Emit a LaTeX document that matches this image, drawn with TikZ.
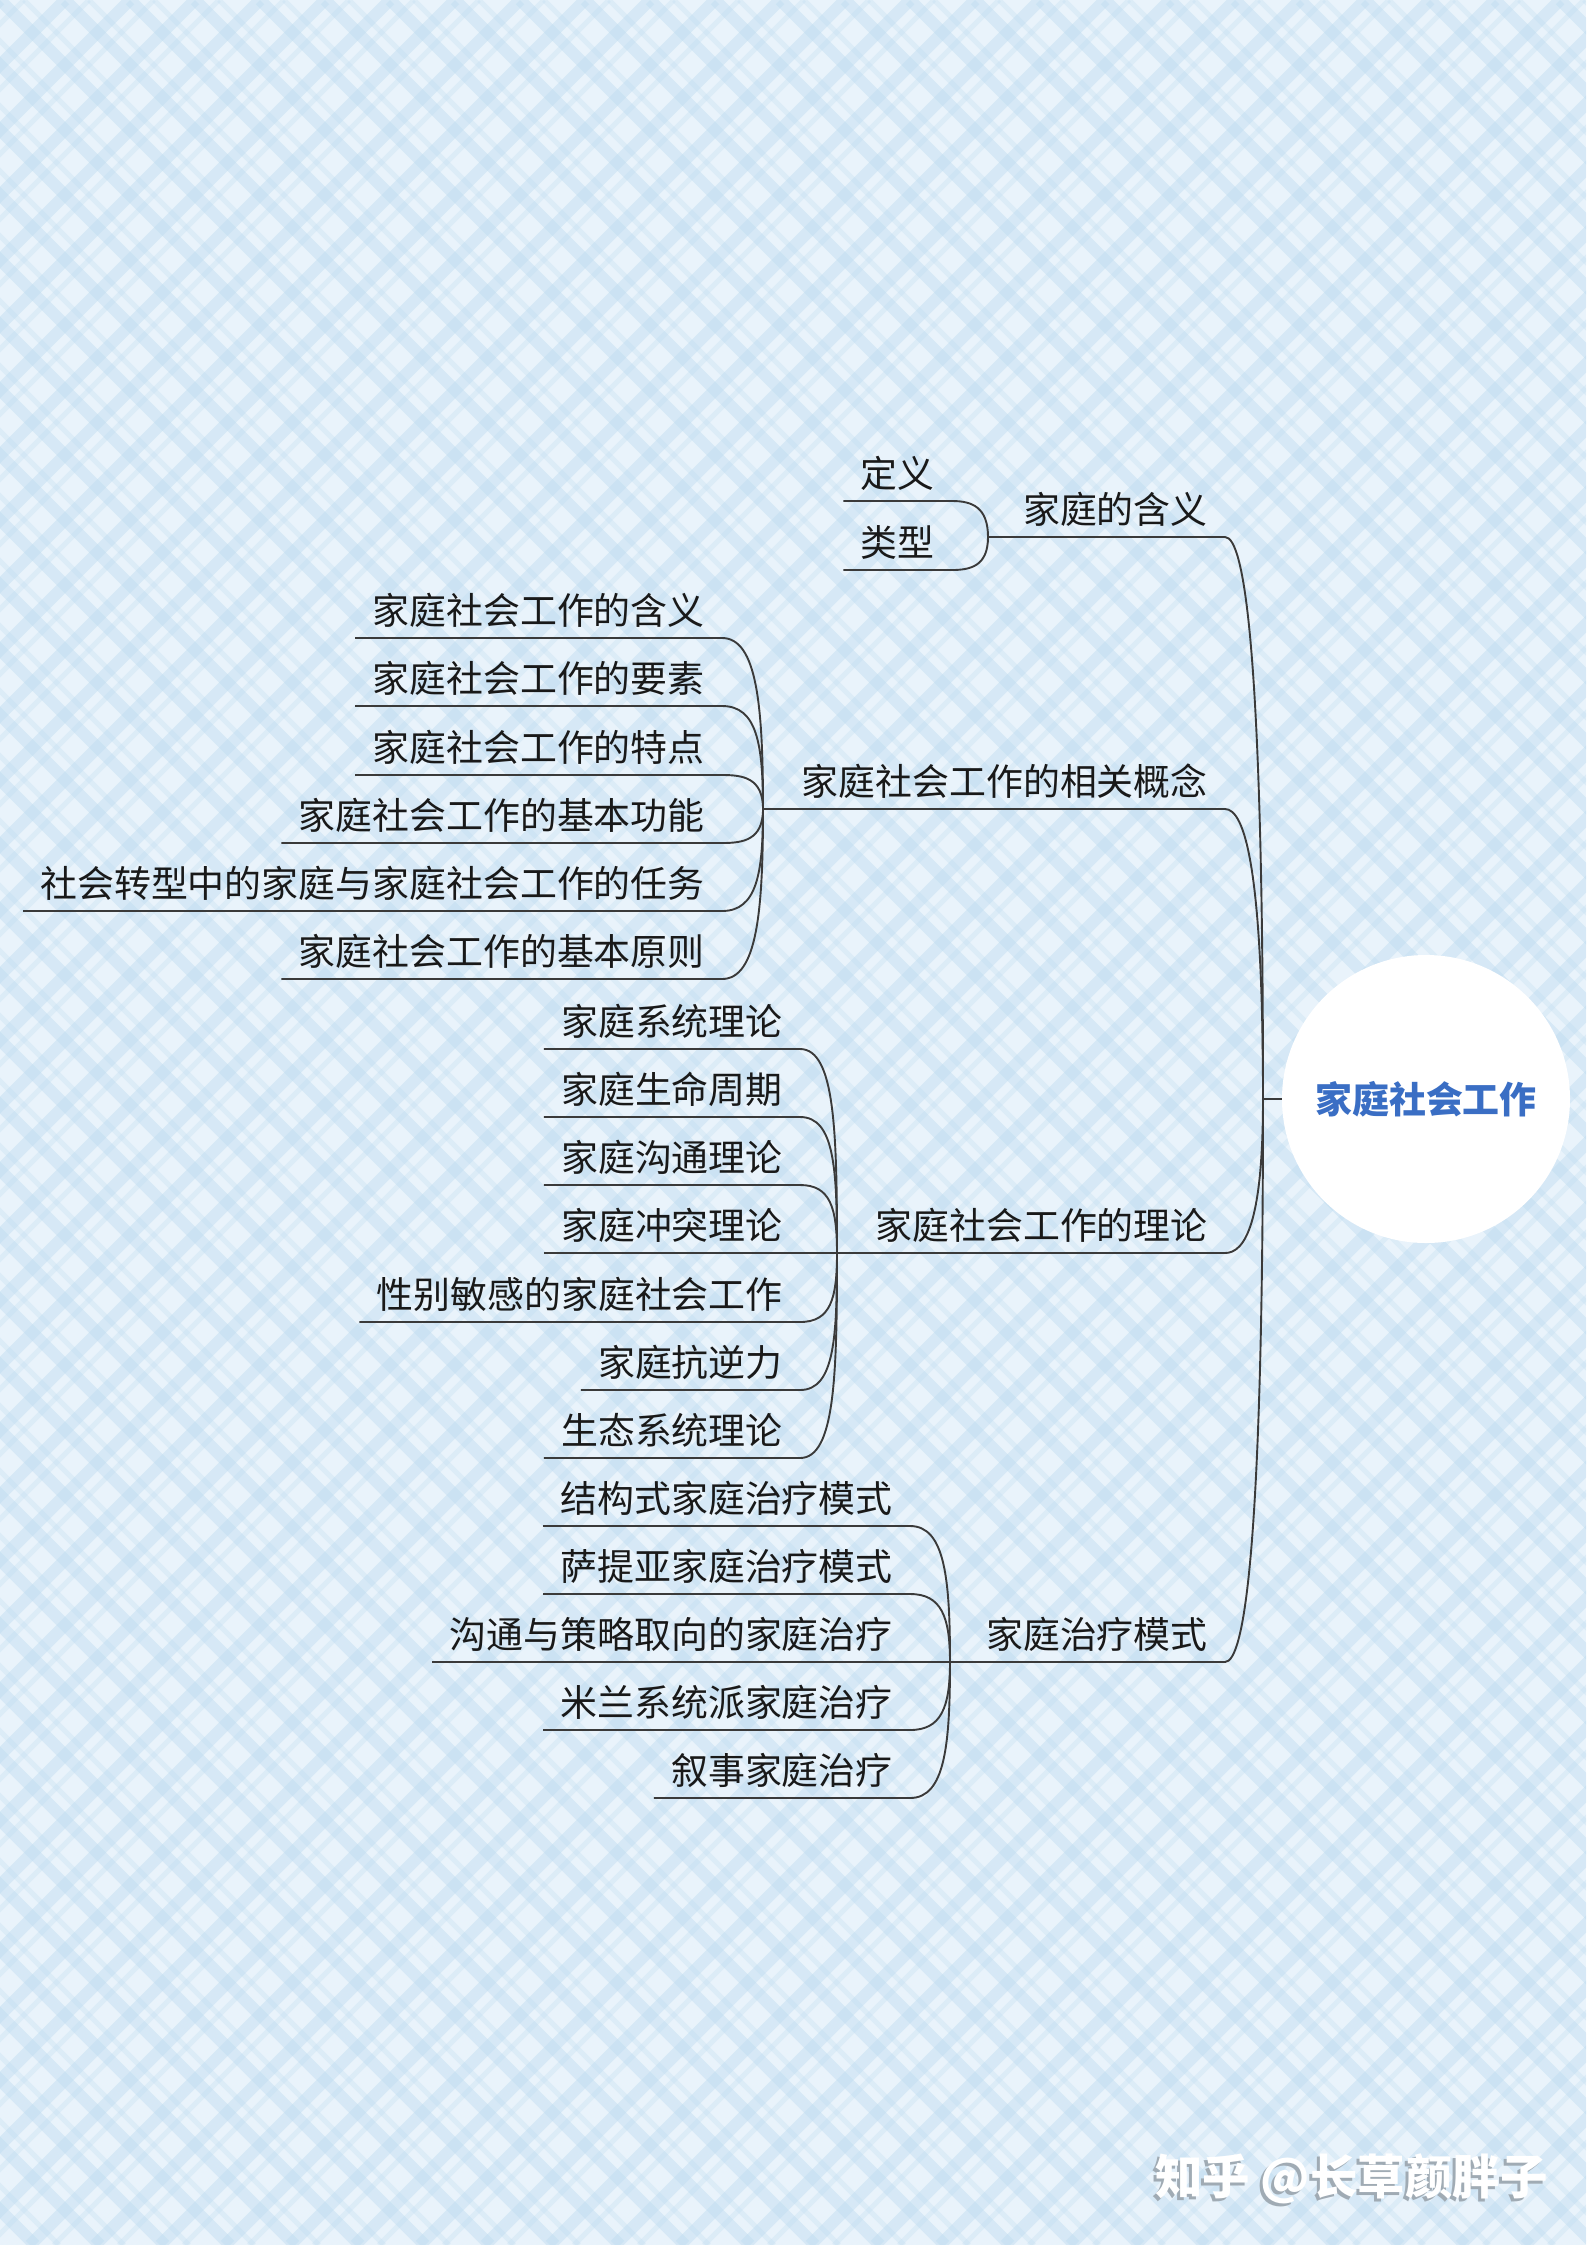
\documentclass[tikz,border=0pt]{standalone}
\usepackage{fontspec}
\setmainfont{Noto Sans CJK SC}

\definecolor{paper}{HTML}{E9F3FB}
\definecolor{plaid}{HTML}{BCDBF0}
\definecolor{linkgray}{HTML}{3A3A3A}
\definecolor{rootblue}{HTML}{3A6EC4}
\definecolor{wmshade}{HTML}{A0ABB4}

\begin{document}
\begin{tikzpicture}[
  x=0.2mm, y=0.2mm,
  link/.style={draw=linkgray, line width=0.38mm},
  topic/.style={font=\fontsize{21}{25}\selectfont, text=black!90, inner xsep=3.4mm, inner ysep=2.6mm, text depth=0pt, anchor=south east},
  root/.style={circle, fill=white, minimum size=57.6mm, inner sep=0pt, text=rootblue, font=\fontsize{21}{25}\selectfont\bfseries},
  wmark/.style={anchor=east, inner sep=0pt, font=\fontsize{27}{30}\selectfont\bfseries},
  fork up/.style={out=0, in=90, out max distance=7mm, in looseness=1.5},
  fork down/.style={out=0, in=-90, out max distance=7mm, in looseness=1.5},
  trunk up/.style={out=0, in=90, out max distance=4mm, in looseness=2},
  trunk down/.style={out=0, in=-90, out max distance=4mm, in looseness=2}
]
\useasboundingbox (0,0) rectangle (1586,-2245);

% plaid paper
\fill[paper] (0,0) rectangle (1586,-2245);
\begin{scope}
\clip (0,0) rectangle (1586,-2245);
\foreach \k in {-2275,-2210,...,3835} {
  \draw[plaid, line width=2.4mm, opacity=.42] (\k,0) -- ++(2245,-2245);
  \draw[plaid, line width=1mm, opacity=.28] (\k+24,0) -- ++(2245,-2245);
  \draw[plaid, line width=2.4mm, opacity=.42] (\k,0) -- ++(-2245,-2245);
  \draw[plaid, line width=1mm, opacity=.28] (\k+24,0) -- ++(-2245,-2245);
}
\end{scope}

% centre
\node[root] (root) at (1426,-1099) {家庭社会工作};
\coordinate (stem) at (1263,-1099);

% main branches
\node[topic] (b1) at (1225,-537) {家庭的含义};
\node[topic] (b2) at (1225,-809) {家庭社会工作的相关概念};
\node[topic] (b3) at (1225,-1253) {家庭社会工作的理论};
\node[topic] (b4) at (1225,-1662) {家庭治疗模式};
\coordinate (b1a) at (988,-537);
\coordinate (b2a) at (763,-809);
\coordinate (b3a) at (837,-1253);
\coordinate (b4a) at (950,-1662);

% 家庭的含义
\node[topic] (c11) at (952,-501) {定义};
\node[topic] (c12) at (952,-570) {类型};

% 相关概念
\node[topic] (c21) at (722,-638) {家庭社会工作的含义};
\node[topic] (c22) at (722,-706) {家庭社会工作的要素};
\node[topic] (c23) at (722,-775) {家庭社会工作的特点};
\node[topic] (c24) at (722,-843) {家庭社会工作的基本功能};
\node[topic] (c25) at (722,-911) {社会转型中的家庭与家庭社会工作的任务};
\node[topic] (c26) at (722,-979) {家庭社会工作的基本原则};

% 理论
\node[topic] (c31) at (800,-1049) {家庭系统理论};
\node[topic] (c32) at (800,-1117) {家庭生命周期};
\node[topic] (c33) at (800,-1185) {家庭沟通理论};
\node[topic] (c34) at (800,-1253) {家庭冲突理论};
\node[topic] (c35) at (800,-1322) {性别敏感的家庭社会工作};
\node[topic] (c36) at (800,-1390) {家庭抗逆力};
\node[topic] (c37) at (800,-1458) {生态系统理论};

% 治疗模式
\node[topic] (c41) at (910,-1526) {结构式家庭治疗模式};
\node[topic] (c42) at (910,-1594) {萨提亚家庭治疗模式};
\node[topic] (c43) at (910,-1662) {沟通与策略取向的家庭治疗};
\node[topic] (c44) at (910,-1730) {米兰系统派家庭治疗};
\node[topic] (c45) at (910,-1798) {叙事家庭治疗};

% connectors
\draw[link] (stem) -- (root);
\draw[link] (b1a) -- (b1.south east) to[trunk up] (stem);
\draw[link] (b2a) -- (b2.south east) to[trunk up] (stem);
\draw[link] (b3a) -- (b3.south east) to[trunk down] (stem);
\draw[link] (b4a) -- (b4.south east) to[trunk down] (stem);

\draw[link] (c11.south west) -- (c11.south east) to[fork up] (b1a);
\draw[link] (c12.south west) -- (c12.south east) to[fork down] (b1a);

\draw[link] (c21.south west) -- (c21.south east) to[fork up] (b2a);
\draw[link] (c22.south west) -- (c22.south east) to[fork up] (b2a);
\draw[link] (c23.south west) -- (c23.south east) to[fork up] (b2a);
\draw[link] (c24.south west) -- (c24.south east) to[fork down] (b2a);
\draw[link] (c25.south west) -- (c25.south east) to[fork down] (b2a);
\draw[link] (c26.south west) -- (c26.south east) to[fork down] (b2a);

\draw[link] (c31.south west) -- (c31.south east) to[fork up] (b3a);
\draw[link] (c32.south west) -- (c32.south east) to[fork up] (b3a);
\draw[link] (c33.south west) -- (c33.south east) to[fork up] (b3a);
\draw[link] (c34.south west) -- (b3a);
\draw[link] (c35.south west) -- (c35.south east) to[fork down] (b3a);
\draw[link] (c36.south west) -- (c36.south east) to[fork down] (b3a);
\draw[link] (c37.south west) -- (c37.south east) to[fork down] (b3a);

\draw[link] (c41.south west) -- (c41.south east) to[fork up] (b4a);
\draw[link] (c42.south west) -- (c42.south east) to[fork up] (b4a);
\draw[link] (c43.south west) -- (b4a);
\draw[link] (c44.south west) -- (c44.south east) to[fork down] (b4a);
\draw[link] (c45.south west) -- (c45.south east) to[fork down] (b4a);

% watermark
\node[wmark, text=wmshade] (wmback) at (1545,-2182) {知乎 @长草颜胖子};
\node[wmark, text=white] (wm) at (1548,-2179) {知乎 @长草颜胖子};
\end{tikzpicture}
\end{document}
